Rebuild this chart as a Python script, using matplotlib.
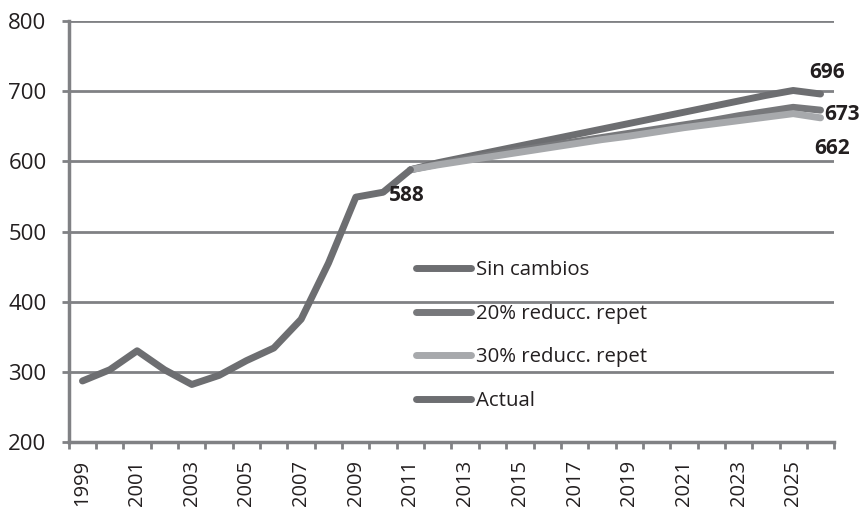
import matplotlib.pyplot as plt

years = list(range(1999, 2027))
actual_years = list(range(1999, 2012))
actual = [287, 303, 330, 303, 282, 295, 316, 334, 375, 455, 549, 556, 588]

proj_years = list(range(2011, 2027))
sin_cambios = [588, 598, 606, 614, 622, 630, 638, 646, 654, 662, 670, 678, 686, 694, 701, 696]
red20 = [588, 596, 603, 610, 616, 622, 628, 634, 640, 646, 652, 658, 665, 671, 677, 673]
red30 = [588, 595, 601, 607, 613, 619, 625, 631, 636, 642, 648, 653, 658, 663, 668, 662]

plt.rcParams['font.family'] = ['Open Sans', 'DejaVu Sans']
grey = '#808184'

fig = plt.figure(figsize=(8.6, 5.09), dpi=100)
ax = fig.add_axes([0.080, 0.1316, 0.890, 0.8271])

idx = {y: i for i, y in enumerate(years)}
px = [idx[y] for y in proj_years]
ax_ = [idx[y] for y in actual_years]

lw = 5
ax.plot(px, sin_cambios, color='#6d6e71', lw=lw, solid_capstyle='round', label='Sin cambios', zorder=3)
ax.plot(px, red20, color='#77787b', lw=lw, solid_capstyle='round', label='20% reducc. repet', zorder=3)
ax.plot(px, red30, color='#a7a9ac', lw=lw, solid_capstyle='round', label='30% reducc. repet', zorder=3)
ax.plot(ax_, actual, color='#6d6e71', lw=lw, solid_capstyle='round', label='Actual', zorder=4)

ax.set_ylim(200, 800)
ax.set_xlim(-0.5, len(years) - 0.5)
ax.set_yticks(range(200, 801, 100))
ax.yaxis.grid(True, color=grey, lw=2)
ax.set_axisbelow(True)

ax.set_xticks([i for i, y in enumerate(years) if (y - 1999) % 2 == 0])
ax.set_xticklabels([str(y) for y in years if (y - 1999) % 2 == 0], rotation=90, fontsize=14.5)
ax.set_xticks([i - 0.5 for i in range(len(years) + 1)], minor=True)
ax.tick_params(axis='x', which='major', length=0, pad=13, labelcolor='#231f20')
ax.tick_params(axis='x', which='minor', length=5, width=2, color=grey)
ax.tick_params(axis='y', length=5, width=2, color=grey, labelsize=16, labelcolor='#231f20', pad=11)

for s in ['top', 'right']:
    ax.spines[s].set_visible(False)
for s in ['left', 'bottom']:
    ax.spines[s].set_color(grey)
    ax.spines[s].set_linewidth(2.5)

bold = dict(fontsize=15, fontweight='bold', color='#231f20', ha='center', va='center',
            textcoords='offset pixels', zorder=5)
ax.annotate('588', (idx[2011], actual[-1]), xytext=(-4, -26), **bold)
ax.annotate('696', (idx[2026], sin_cambios[-1]), xytext=(7, 21), **bold)
ax.annotate('673', (idx[2026], red20[-1]), xytext=(21, -4), **bold)
ax.annotate('662', (idx[2026], red30[-1]), xytext=(12, -31), **bold)

leg = ax.legend(loc='upper left', bbox_to_anchor=(0.43, 0.475), frameon=False,
                fontsize=14.7, handlelength=2.7, handletextpad=0.2, labelspacing=1.15,
                labelcolor='#231f20')
for h in leg.get_lines():
    h.set_solid_capstyle('round')

fig.savefig('out.png', dpi=100)
